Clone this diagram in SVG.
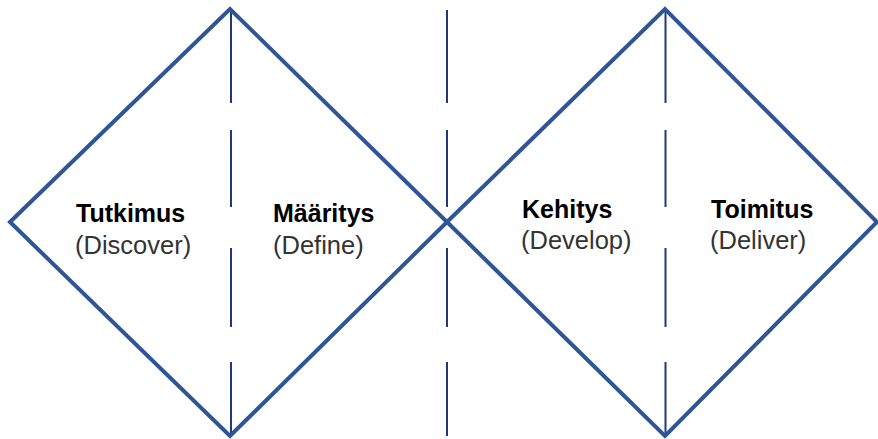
<svg xmlns="http://www.w3.org/2000/svg" width="878" height="439" viewBox="0 0 878 439">
<style>
.dia{fill:none;stroke:#2f5597;stroke-width:4;stroke-linejoin:miter}
.dash{stroke:#1f3a78;stroke-width:2;fill:none}
.t1{font-family:"Liberation Sans",Arial,sans-serif;font-size:25px;font-weight:bold;fill:#000}
.t2{font-family:"Liberation Sans",Arial,sans-serif;font-size:25.5px;fill:#333}
</style>
<rect width="878" height="439" fill="#fff"/>
<g id="connectors">
<path class="dash" d="M231 10V103M231 130V207M231 248V327M231 362V436"/>
<path class="dash" d="M447 10V103M447 130V207M447 248V327M447 362V436"/>
<path class="dash" d="M665.5 10V103M665.5 130V207M665.5 248V327M665.5 362V436"/>
</g>
<g id="diamond-left">
<polygon class="dia" points="10,222 230,9 447,222 230,436"/>
</g>
<g id="diamond-right">
<polygon class="dia" points="447,222 665,9 877,222 665,436"/>
</g>
<g id="label-tutkimus">
<text class="t1" x="76" y="222">Tutkimus</text>
<text class="t2" x="75" y="254">(Discover)</text>
</g>
<g id="label-maaritys">
<text class="t1" x="273" y="222">Määritys</text>
<text class="t2" x="273" y="254">(Define)</text>
</g>
<g id="label-kehitys">
<text class="t1" x="522" y="218">Kehitys</text>
<text class="t2" x="521" y="249">(Develop)</text>
</g>
<g id="label-toimitus">
<text class="t1" x="711" y="218">Toimitus</text>
<text class="t2" x="710" y="249">(Deliver)</text>
</g>
</svg>
